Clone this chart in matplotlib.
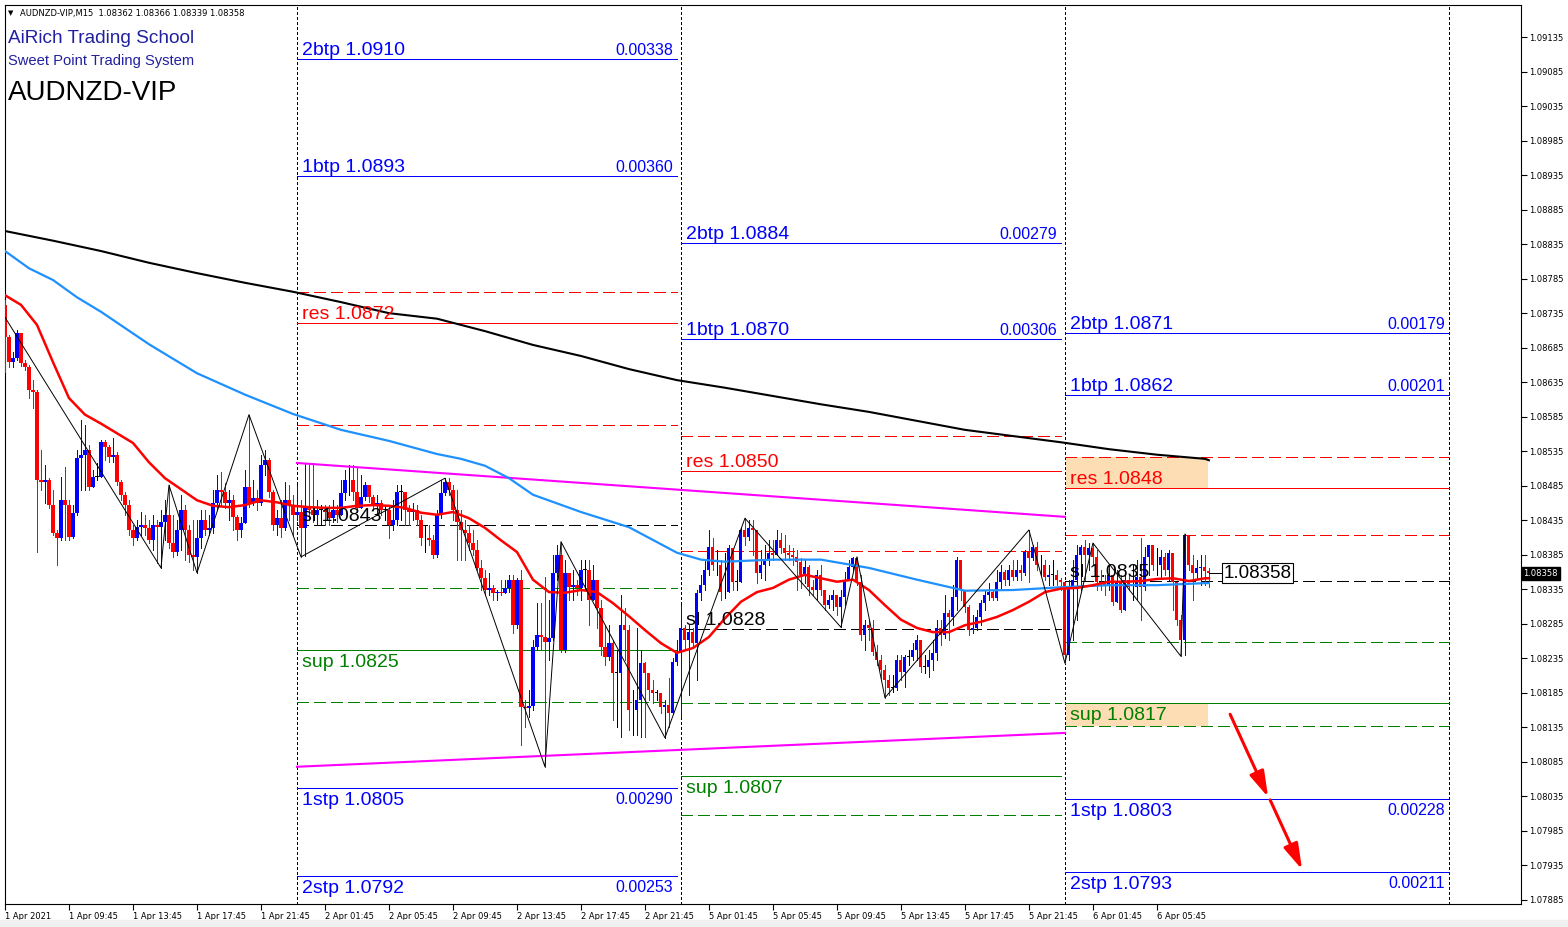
import matplotlib
matplotlib.use("Agg")
import matplotlib.pyplot as plt
from matplotlib.patches import Rectangle
import numpy as np

W, H = 1568, 927
BASE = 1.08          # candle / indicator lists are points (0.00001) above 1.08000
PT = 1e-5

# ---- AUDNZD M15 candles, bar 0 = 1 Apr 05:45 ----
first_open = 747
closes = [
    701, 664, 670, 706, 663, 657, 624, 621, 493, 490, 493, 457, 417, 409, 464, 457,
    411, 446, 525, 530, 537, 483, 498, 498, 548, 541, 527, 530, 490, 472, 457, 421,
    409, 425, 428, 424, 406, 428, 425, 433, 443, 402, 389, 421, 450, 421, 385, 382,
    409, 435, 421, 424, 460, 479, 476, 460, 464, 440, 421, 431, 483, 460, 467, 460,
    515, 522, 476, 428, 438, 424, 464, 457, 443, 447, 424, 454, 450, 443, 450, 450,
    447, 438, 450, 443, 475, 493, 493, 476, 453, 469, 486, 469, 457, 460, 450, 450,
    428, 435, 476, 476, 450, 447, 450, 435, 409, 409, 406, 385, 443, 475, 490, 479,
    450, 433, 421, 417, 402, 392, 366, 351, 334, 337, 330, 331, 330, 337, 349, 283,
    349, 165, 163, 166, 251, 269, 266, 259, 265, 359, 385, 247, 359, 338, 341, 337,
    363, 363, 320, 349, 308, 251, 237, 257, 214, 214, 283, 276, 160, 160, 175, 228,
    214, 189, 185, 185, 165, 167, 156, 230, 243, 279, 262, 273, 257, 330, 341, 363,
    396, 370, 370, 331, 331, 395, 346, 346, 421, 411, 424, 421, 359, 370, 378, 388,
    385, 406, 395, 388, 385, 382, 375, 356, 367, 338, 334, 356, 334, 312, 320, 327,
    309, 324, 349, 367, 380, 346, 269, 283, 279, 244, 233, 218, 204, 192, 192, 233,
    215, 237, 237, 247, 262, 223, 223, 233, 243, 279, 269, 301, 295, 324, 378, 334,
    309, 276, 279, 295, 315, 327, 331, 322, 346, 360, 349, 363, 353, 363, 359, 389,
    380, 396, 370, 370, 353, 356, 356, 349, 346, 240, 337, 349, 385, 396, 385, 395,
    382, 346, 344, 341, 356, 317, 346, 305, 349, 338, 338, 353, 338, 382, 399, 370,
    370, 382, 363, 388, 346, 291, 262, 414, 370, 359, 366, 367, 362, 358,
]
highs = [
    754, 703, 679, 711, 706, 667, 660, 638, 624, 537, 515, 496, 479, 421, 498, 512,
    464, 457, 537, 580, 573, 544, 508, 518, 551, 551, 544, 554, 534, 493, 476, 464,
    428, 435, 447, 443, 435, 443, 435, 450, 464, 486, 443, 435, 472, 457, 428, 435,
    435, 450, 450, 443, 479, 501, 505, 489, 479, 472, 443, 440, 508, 588, 493, 479,
    530, 537, 525, 479, 450, 464, 490, 486, 472, 486, 464, 518, 515, 518, 464, 457,
    457, 457, 464, 457, 493, 508, 515, 515, 511, 501, 490, 486, 472, 472, 464, 457,
    457, 464, 486, 486, 464, 457, 460, 457, 443, 428, 428, 414, 450, 493, 496, 496,
    486, 479, 450, 435, 428, 421, 406, 378, 363, 359, 341, 334, 349, 349, 356, 356,
    351, 363, 175, 189, 262, 315, 315, 353, 320, 385, 399, 404, 378, 356, 363, 349,
    378, 378, 378, 370, 341, 320, 283, 283, 262, 247, 327, 308, 283, 189, 279, 247,
    230, 204, 204, 189, 178, 175, 207, 236, 262, 312, 283, 283, 279, 334, 356, 378,
    421, 409, 392, 378, 388, 399, 378, 363, 424, 438, 435, 435, 421, 392, 399, 406,
    406, 421, 417, 414, 399, 395, 392, 380, 378, 370, 349, 363, 370, 334, 327, 334,
    327, 334, 360, 378, 382, 382, 356, 291, 291, 291, 254, 240, 225, 211, 211, 240,
    240, 240, 247, 257, 269, 250, 240, 247, 262, 291, 291, 327, 305, 341, 382, 370,
    334, 312, 298, 305, 320, 334, 344, 334, 363, 370, 363, 370, 378, 378, 370, 392,
    421, 399, 404, 385, 378, 370, 378, 363, 351, 346, 349, 378, 399, 399, 406, 402,
    402, 392, 363, 356, 370, 356, 363, 356, 363, 356, 370, 378, 409, 396, 399, 399,
    395, 392, 388, 392, 378, 320, 298, 415, 406, 385, 378, 385, 385, 366,
]
lows = [
    650, 657, 657, 667, 659, 653, 612, 598, 389, 479, 460, 453, 414, 370, 406, 406,
    406, 409, 443, 479, 479, 479, 486, 493, 498, 522, 519, 519, 486, 464, 443, 414,
    399, 406, 414, 414, 402, 392, 373, 366, 406, 395, 382, 385, 392, 378, 375, 363,
    359, 395, 414, 414, 417, 450, 457, 453, 435, 421, 406, 411, 431, 454, 457, 450,
    457, 501, 469, 421, 414, 411, 421, 435, 414, 435, 382, 383, 435, 433, 428, 428,
    428, 428, 433, 433, 443, 464, 472, 464, 447, 457, 464, 461, 450, 443, 443, 435,
    409, 421, 428, 435, 428, 428, 435, 428, 399, 389, 399, 380, 382, 438, 472, 472,
    435, 378, 378, 378, 392, 385, 363, 334, 327, 327, 320, 320, 327, 330, 331, 272,
    279, 109, 136, 150, 160, 247, 247, 78, 233, 262, 349, 244, 244, 320, 320, 327,
    320, 334, 283, 320, 279, 240, 225, 233, 146, 136, 121, 233, 131, 124, 124, 121,
    121, 175, 170, 175, 156, 120, 136, 156, 225, 150, 247, 182, 250, 204, 320, 334,
    356, 363, 356, 320, 322, 341, 334, 334, 349, 399, 406, 385, 344, 351, 349, 370,
    378, 385, 388, 378, 378, 370, 334, 337, 344, 327, 327, 320, 327, 305, 308, 305,
    298, 280, 312, 349, 363, 341, 262, 247, 262, 240, 225, 207, 178, 182, 186, 189,
    204, 194, 225, 233, 233, 215, 214, 208, 218, 233, 254, 265, 262, 283, 305, 320,
    302, 269, 272, 276, 283, 305, 320, 320, 320, 337, 341, 341, 349, 349, 349, 356,
    346, 378, 363, 356, 349, 341, 341, 341, 334, 228, 233, 262, 291, 334, 349, 363,
    370, 334, 334, 327, 334, 312, 320, 302, 320, 334, 320, 320, 291, 334, 356, 363,
    356, 351, 356, 349, 305, 283, 238, 240, 363, 320, 351, 341, 341, 339,
]
last_price = 1.08358

# ---- moving averages (sampled bars, points above 1.08) ----
black_ma_bars = list(range(0, 301, 12)) + [301]
black_ma = [854, 840, 825, 808, 793, 779, 766, 751, 735, 727, 709, 689, 673, 654,
            638, 627, 615, 603, 592, 579, 566, 557, 548, 538, 530, 524, 522]
blue_ma_bars = [0, 6, 12, 18, 24, 36, 48, 60, 72, 84, 96, 108, 114, 120, 126, 132,
                144, 156, 168, 174, 180, 192, 204, 216, 228, 240, 252, 264, 276, 288,
                300, 301]
blue_ma = [825, 800, 783, 758, 737, 690, 648, 617, 589, 566, 550, 531, 524, 514, 496,
           472, 447, 425, 388, 378, 375, 378, 378, 366, 349, 333, 334, 338, 341, 341,
           344, 344]
red_ma_bars = list(range(0, 301, 4)) + [301]
red_ma = [761, 747, 718, 664, 612, 588, 575, 561, 547, 519,
          496, 480, 464, 456, 454, 457, 464, 461, 456, 454,
          453, 453, 456, 457, 456, 453, 446, 443, 447, 438,
          424, 406, 389, 349, 331, 330, 334, 331, 315, 296,
          276, 257, 243, 250, 266, 293, 317, 331, 337, 349,
          356, 351, 346, 349, 334, 312, 291, 279, 273, 273,
          283, 288, 295, 305, 317, 331, 336, 337, 341, 346,
          346, 347, 350, 351, 347, 351, 351]

zigzag_bars = [0, 39, 41, 48, 61, 74, 110, 135, 139, 165, 185, 209, 213, 220,
               256, 265, 272, 294, 295]
zigzag = [729, 366, 486, 359, 588, 382, 496, 78, 404, 120, 438, 280, 382, 178,
          421, 228, 402, 238, 415]

channel_bars = [73, 265]
channel_top = [1.08518, 1.08440]
channel_bottom = [1.08078, 1.08127]

# ---- daily levels ----
day_starts = [73, 169, 265]          # day separators (2 Apr, 5 Apr, 6 Apr)
day_ends = [168, 264, 361]
targets = [
    [("up", 1.09103, "2btp 1.0910", "0.00338"), ("up", 1.08934, "1btp 1.0893", "0.00360"),
     ("dn", 1.08047, "1stp 1.0805", "0.00290"), ("dn", 1.07920, "2stp 1.0792", "0.00253")],
    [("up", 1.08837, "2btp 1.0884", "0.00279"), ("up", 1.08698, "1btp 1.0870", "0.00306")],
    [("up", 1.08706, "2btp 1.0871", "0.00179"), ("up", 1.08617, "1btp 1.0862", "0.00201"),
     ("dn", 1.08031, "1stp 1.0803", "0.00228"), ("dn", 1.07926, "2stp 1.0793", "0.00211")],
]
res_levels = [(1.08766, 1.08721, 1.08573, "res 1.0872"),
              (1.08557, 1.08506, 1.08391, "res 1.0850"),
              (1.08527, 1.08482, 1.08414, "res 1.0848")]
sl_levels = [(1.08428, "sl 1.0843"), (1.08278, "sl 1.0828"), (1.08347, "sl 1.0835")]
sup_levels = [(1.08337, 1.08247, 1.08172, "sup 1.0825"),
              (1.08170, 1.08065, 1.08008, "sup 1.0807"),
              (1.08259, 1.08170, 1.08137, "sup 1.0817")]
zone_bars = (265.25, 300.75)

arrows = [((306.3, 1.08154), (315.8, 1.08034)), ((316.3, 1.08030), (324.3, 1.07929))]

time_labels = ["1 Apr 2021", "1 Apr 09:45", "1 Apr 13:45", "1 Apr 17:45", "1 Apr 21:45",
               "2 Apr 01:45", "2 Apr 05:45", "2 Apr 09:45", "2 Apr 13:45", "2 Apr 17:45",
               "2 Apr 21:45", "5 Apr 01:45", "5 Apr 05:45", "5 Apr 09:45", "5 Apr 13:45",
               "5 Apr 17:45", "5 Apr 21:45", "6 Apr 01:45", "6 Apr 05:45"]

LBL = "Liberation Sans"
BLUE, RED, GREEN = "#0000FF", "#FF0000", "#008000"
DASH = (0, (14, 7))
THIN = 0.6


def pts(a):
    return BASE + np.asarray(a, dtype=float) * PT


fig = plt.figure(figsize=(W / 100, H / 100), dpi=100)
fig.patches.append(Rectangle((0, 0), 1, 7 / H, transform=fig.transFigure,
                             color="#f0f0f0", zorder=0))
ax = fig.add_axes([4.5 / W, 1 - 904 / H, 1516 / W, 899.5 / H])
ax.set_xlim(-0.125, 378.9)
ax.set_ylim(1.078792, 1.091821)

# candles
c = pts(closes)
o = np.r_[pts(first_open), c[:-1]]
h = np.maximum(pts(highs), np.maximum(o, c))
l = np.minimum(pts(lows), np.minimum(o, c))
idx = np.arange(len(c))
col = np.where(c > o, BLUE, np.where(c < o, RED, "black"))
ax.vlines(idx, l, h, colors=col, lw=THIN, zorder=3, antialiased=False)
ax.bar(idx, np.maximum(np.abs(c - o), 0.8 * PT), bottom=np.minimum(o, c), width=0.77,
       color=col, linewidth=0, zorder=3, antialiased=False)

# day separators
for b in day_starts + [361]:
    ax.axvline(b, color="black", lw=THIN, ls=(0, (3, 3)), zorder=2, antialiased=False)


def hline(x0, x1, p, color, ls="-"):
    ax.plot([x0, x1], [p, p], color=color, lw=THIN, ls=ls, zorder=2, antialiased=False)


def above(x, y, s, color, size=14, ha="left"):
    ax.annotate(s, (x, y), xytext=(0, 2.9), textcoords="offset points", ha=ha,
                va="baseline", color=color, fontsize=size, family=LBL, zorder=6)


def below(x, y, s, color, size=14, ha="left"):
    ax.annotate(s, (x, y), xytext=(0, -2.9), textcoords="offset points", ha=ha,
                va="top", color=color, fontsize=size, family=LBL, zorder=6)


for d in range(3):
    x0, x1 = day_starts[d], day_ends[d]
    for kind, p, s, dist in targets[d]:
        hline(x0, x1, p, BLUE)
        f = above if kind == "up" else below
        f(x0 + 1.25, p, s, BLUE)
        f(x1 - 1, p, dist, BLUE, size=11.5, ha="right")
    r_hi, r, r_lo, rs = res_levels[d]
    hline(x0, x1, r_hi, RED, DASH)
    hline(x0, x1, r, RED)
    hline(x0, x1, r_lo, RED, DASH)
    above(x0 + 1.25, r, rs, RED)
    slp, sls = sl_levels[d]
    hline(x0, x1, slp, "black", DASH)
    above(x0 + 1.25, slp, sls, "black")
    s_hi, s, s_lo, ss = sup_levels[d]
    hline(x0, x1, s_hi, GREEN, DASH)
    hline(x0, x1, s, GREEN)
    hline(x0, x1, s_lo, GREEN, DASH)
    below(x0 + 1.25, s, ss, GREEN)

# highlighted zones of the current day
zx0, zx1 = zone_bars
ax.add_patch(Rectangle((zx0, res_levels[2][1]), zx1 - zx0, res_levels[2][0] - res_levels[2][1],
                       color="#FDDDB4", lw=0, zorder=1))
ax.add_patch(Rectangle((zx0, sup_levels[2][2]), zx1 - zx0, sup_levels[2][1] - sup_levels[2][2],
                       color="#FDDDB4", lw=0, zorder=1))

# channel, moving averages, zigzag
ax.plot(channel_bars, channel_top, color="#FF00FF", lw=1.5, zorder=4)
ax.plot(channel_bars, channel_bottom, color="#FF00FF", lw=1.5, zorder=4)
ax.plot(black_ma_bars, pts(black_ma), color="black", lw=1.5, zorder=4)
ax.plot(blue_ma_bars, pts(blue_ma), color="#1E90FF", lw=1.6, zorder=4)
ax.plot(red_ma_bars, pts(red_ma), color=RED, lw=1.8, zorder=4)
ax.plot(zigzag_bars, pts(zigzag), color="black", lw=0.7, zorder=5)

# current price
ax.plot([len(c) - 1, 304.25], [last_price, last_price], color="black", lw=THIN, zorder=5,
        antialiased=False)
ax.text(304.6, last_price, f"{last_price:.5f}", fontsize=13.5, family=LBL, va="center",
        ha="left", zorder=6,
        bbox=dict(boxstyle="square,pad=0.08", fc="white", ec="black", lw=0.8))
ax.annotate(f"{last_price:.5f}", xy=(1.0, last_price), xycoords=("axes fraction", "data"),
            xytext=(2.2, 0), textcoords="offset points", ha="left", va="center",
            fontsize=6, color="white", annotation_clip=False,
            bbox=dict(boxstyle="square,pad=0.2", fc="black", ec="black"))

for start, end in arrows:
    ax.annotate("", xy=end, xytext=start, zorder=6,
                arrowprops=dict(arrowstyle="-|>,head_length=1.2,head_width=0.35",
                                color=RED, lw=2.2, mutation_scale=13, shrinkA=0, shrinkB=0))

# axes
ax.yaxis.tick_right()
ax.set_yticks(np.arange(1.07885, 1.09136, 0.0005))
ax.set_yticklabels([f"{v:.5f}" for v in np.arange(1.07885, 1.09136, 0.0005)])
ax.tick_params(axis="y", direction="out", length=4, width=0.8, labelsize=6, pad=2)
ax.set_xticks(np.arange(0, 16 * len(time_labels), 16))
ax.set_xticklabels(time_labels, ha="left")
ax.tick_params(axis="x", direction="out", length=4, width=0.8, labelsize=6, pad=1.5)
for sp in ax.spines.values():
    sp.set_linewidth(0.8)
    sp.set_color("black")

# header texts
fig.text(8 / W, 1 - 15.5 / H, "\u25bc", fontsize=5, color="black")
fig.text(20 / W, 1 - 16 / H, "AUDNZD-VIP,M15  1.08362 1.08366 1.08339 1.08358",
         fontsize=6, color="black", va="baseline")
fig.text(8 / W, 1 - 43 / H, "AiRich Trading School", fontsize=13.7, family=LBL,
         color="#2020A0", va="baseline")
fig.text(8 / W, 1 - 64.5 / H, "Sweet Point Trading System", fontsize=10.6, family=LBL,
         color="#2020A0", va="baseline")
fig.text(8 / W, 1 - 100 / H, "AUDNZD-VIP", fontsize=20, family=LBL, color="black",
         va="baseline")

fig.savefig("out.png", dpi=100)
